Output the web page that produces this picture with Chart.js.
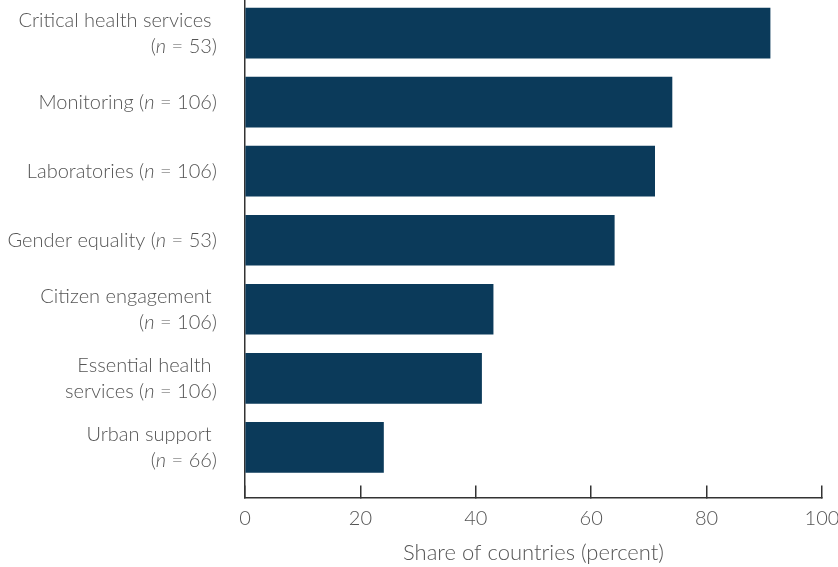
<!DOCTYPE html>
<html>
<head>
<meta charset="utf-8">
<script src="https://cdn.jsdelivr.net/npm/chart.js@4"></script>
<style>
  html, body { margin: 0; padding: 0; background: #ffffff; }
  #wrap { width: 838px; height: 567px; }
</style>
</head>
<body>
<div id="wrap"><canvas id="c" width="838" height="567"></canvas></div>
<script>
// ---- data ----
const categories = [
  ["Critical health services ", "(n = 53)"],
  ["Monitoring (n = 106)"],
  ["Laboratories (n = 106)"],
  ["Gender equality (n = 53)"],
  ["Citizen engagement ", "(n = 106)"],
  ["Essential health ", "services (n = 106)"],
  ["Urban support ", "(n = 66)"]
];
const shares = [91, 74, 71, 64, 43, 41, 24];
const xTickValues = [0, 20, 40, 60, 80, 100];
const xTitle = "Share of countries (percent)";

const FONT = "Lato, 'Open Sans', sans-serif";
const TEXT = "#555555";
const AXIS = "#333333";

// draw category labels with italic "n"
const labelPlugin = {
  id: 'catLabels',
  afterDraw(chart) {
    const ctx = chart.ctx;
    const ys = chart.scales.y;
    const xRight = ys.right - 28;
    const lineH = 26;
    ctx.save();
    ctx.fillStyle = TEXT;
    ctx.textBaseline = 'middle';
    ctx.textAlign = 'left';
    const normal = "300 20px " + FONT;
    const ital = "italic 300 20px " + FONT;
    categories.forEach((lines, i) => {
      const cy = ys.getPixelForValue(i);
      const y0 = cy - (lines.length - 1) * lineH / 2;
      lines.forEach((line, j) => {
        const parts = line.split(/(\bn\b)/);
        const segs = parts.filter(p => p.length).map(p => ({ t: p, f: p === 'n' ? ital : normal }));
        let total = 0;
        segs.forEach(s => { ctx.font = s.f; s.w = ctx.measureText(s.t).width; total += s.w; });
        let x = xRight - total;
        segs.forEach(s => { ctx.font = s.f; ctx.fillText(s.t, x, y0 + j * lineH); x += s.w; });
      });
    });
    ctx.restore();
  }
};

const points = shares.map((v, i) => ({ x: v, y: i }));

new Chart(document.getElementById('c'), {
  type: 'bar',
  data: {
    datasets: [{
      data: points,
      backgroundColor: '#0b3a5a',
      borderWidth: 0,
      barThickness: 50
    }]
  },
  options: {
    indexAxis: 'y',
    responsive: false,
    animation: false,
    layout: { padding: { top: 0, right: 16, bottom: 1, left: 0 } },
    plugins: { legend: { display: false }, tooltip: { enabled: false } },
    scales: {
      y: {
        type: 'linear',
        reverse: true,
        offset: false,
        min: -0.479,
        max: 6.727,
        ticks: { display: false },
        grid: { display: false, offset: false },
        border: { display: true, color: AXIS, width: 1.5 },
        afterFit(scale) { scale.width = 245; }
      },
      x: {
        type: 'linear',
        min: 0,
        max: 100,
        afterBuildTicks(scale) { scale.ticks = xTickValues.map(v => ({ value: v })); },
        afterFit(scale) { scale.paddingLeft = 0; scale.paddingRight = 0; },
        ticks: { color: TEXT, font: { family: FONT, size: 20, weight: 300 }, padding: 21, maxRotation: 0 },
        grid: { display: true, drawOnChartArea: false, drawTicks: true, tickLength: -12, color: AXIS, lineWidth: 1.5 },
        border: { display: true, color: AXIS, width: 1.5 },
        title: { display: true, text: xTitle, color: TEXT, font: { family: FONT, size: 22, weight: 300 }, padding: { top: -12, bottom: 0 } }
      }
    }
  },
  plugins: [labelPlugin]
});
</script>
</body>
</html>
